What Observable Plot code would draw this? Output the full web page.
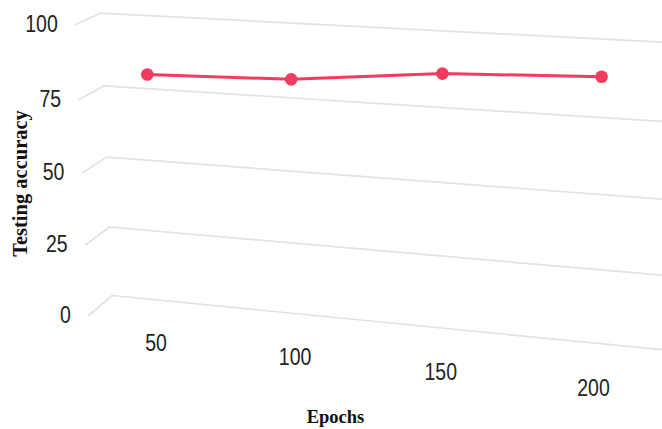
<!DOCTYPE html>
<html><head><meta charset="utf-8">
<script src="https://cdn.jsdelivr.net/npm/d3@7"></script>
<script src="https://cdn.jsdelivr.net/npm/@observablehq/plot@0.6"></script>
<style>
html,body{margin:0;padding:0;background:#fff;overflow:hidden;}
#chart{position:relative;width:662px;height:429px;}
#chart svg{position:absolute;left:0;top:0;}
</style></head><body><div id="chart"></div>
<script>
// ---- data ----
const epochs = [50, 100, 150, 200];
const accuracy = [84.8, 86.1, 90.8, 92.7];
const yTicks = [0, 25, 50, 75, 100];
const xTitle = "Epochs";
const yTitle = "Testing accuracy";

// ---- layout: perspective of the 3D box ----
const W = 662, H = 429;
const VH = [-5870, -295];   // vanishing point, category direction
const VV = [400, 7250];     // vanishing point, value direction
const BACK = {o: [111.7, 295], l1: -0.022215, l2: -3.9006e-4};
const FRONT = {o: [88.3, 315], l1: -0.022311, l2: -4.0271e-4};
const WALL_END = 4;
function plane(p) {
  return (X, Y) => {
    const a = p.l1 * X, b = p.l2 * Y, w = 1 + a + b;
    return [(a * VH[0] + b * VV[0] + p.o[0]) / w, (a * VH[1] + b * VV[1] + p.o[1]) / w];
  };
}
const back = plane(BACK), front = plane(FRONT);
// walls: u in [-1,0] = left side wall (front -> back), u >= 0 = back wall
const wallProjection = () => d3.geoTransform({
  point(u, v) {
    let p;
    if (u >= 0) p = back(u, v);
    else {
      const t = Math.min(1, -u), b = back(0, v), f = front(0, v);
      p = [b[0] + (f[0] - b[0]) * t, b[1] + (f[1] - b[1]) * t];
    }
    this.stream.point(p[0], p[1]);
  }
});
const frontProjection = () => d3.geoTransform({
  point(x, y) { const p = front(x, y); this.stream.point(p[0], p[1]); }
});

const band = d3.scaleBand().domain(epochs).range([0, epochs.length]);
const rows = epochs.map((e, i) => ({epoch: e, pos: band(e) + band.bandwidth() / 2, acc: accuracy[i]}));
const grid = yTicks.flatMap(v => [-1, 0, WALL_END].map(u => ({u, v})));

const color = "#f23c5e";
const sans = "Liberation Sans, Arial, sans-serif";
const serif = "Liberation Serif, Times New Roman, serif";

const walls = Plot.plot({
  width: W, height: H, margin: 0,
  projection: {type: wallProjection, clip: false},
  style: {background: "white"},
  marks: [
    Plot.line(grid, {x: "u", y: "v", z: "v", stroke: "#e2e2e2", strokeWidth: 1.7, curve: "linear"})
  ]
});

const fg = Plot.plot({
  width: W, height: H, margin: 0,
  projection: {type: frontProjection, clip: false},
  style: {background: "transparent"},
  marks: [
    Plot.line(rows, {x: "pos", y: "acc", stroke: color, strokeWidth: 3, curve: "linear"}),
    Plot.dot(rows, {x: "pos", y: "acc", r: 6.3, fill: color}),
    Plot.text(yTicks, {x: () => 0, y: d => d, text: d => String(d), textAnchor: "end", dx: -18,
      fontSize: 19.5, fontFamily: sans, fill: "#222"}),
    Plot.text(rows, {x: "pos", y: () => 0, text: d => String(d.epoch), dy: 21,
      fontSize: 19.5, fontFamily: sans, fill: "#222"}),
    Plot.text([yTitle], {frameAnchor: "top-left", dx: 20, dy: 183, rotate: -90, textAnchor: "middle",
      lineAnchor: "middle", fontSize: 20.5, fontWeight: "bold", fontFamily: serif, fill: "#111"}),
    Plot.text([xTitle], {frameAnchor: "top-left", dx: 335, dy: 417, textAnchor: "middle",
      lineAnchor: "middle", fontSize: 18.5, fontWeight: "bold", fontFamily: serif, fill: "#111"})
  ]
});

// tick digits in the reference are taller than wide: stretch them vertically around their anchor
d3.select(fg).selectAll("text").filter(function() { return /^\d+$/.test(this.textContent); })
  .each(function() {
    const t = this.getAttribute("transform");
    if (t) this.setAttribute("transform", t + " scale(1,1.18)");
    else {
      const x = +this.getAttribute("x") || 0, y = +this.getAttribute("y") || 0;
      this.setAttribute("transform", `translate(${x},${y}) scale(1,1.18) translate(${-x},${-y})`);
    }
  });

document.getElementById("chart").append(walls, fg);
</script></body></html>
